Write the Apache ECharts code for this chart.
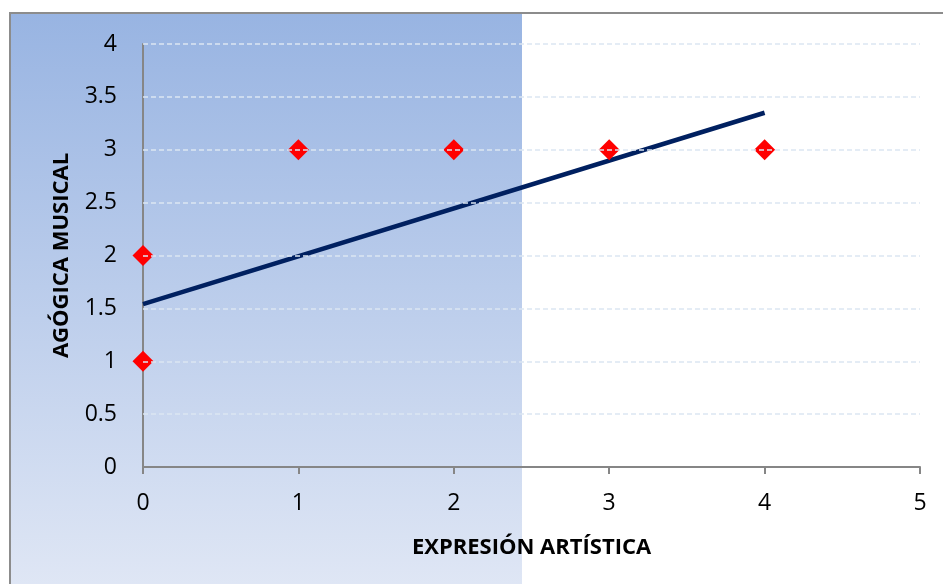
<!DOCTYPE html>
<html><head><meta charset="utf-8">
<script src="https://cdn.jsdelivr.net/npm/echarts@6/dist/echarts.min.js"></script>
<style>html,body{margin:0;padding:0;background:#fff}#c{width:943px;height:584px}</style>
</head><body><div id="c"></div>
<script>
var xValues = [0, 0, 1, 2, 3, 4];
var yValues = [1, 2, 3, 3, 3, 3];
var trendX = [0, 4];
var trendY = [1.54, 3.35];
var yTicks = [0.5, 1, 1.5, 2, 2.5, 3, 3.5, 4];
var xTitle = 'EXPRESIÓN ARTÍSTICA';
var yTitle = 'AGÓGICA MUSICAL';

var pts = xValues.map(function(x, i){ return [x, yValues[i]]; });
var trend = trendX.map(function(x, i){ return [x, trendY[i]]; });
var font = 'Open Sans';
var chart = echarts.init(document.getElementById('c'));
chart.setOption({
  animation: false,
  graphic: [
    {type:'rect', z:-10, shape:{x:10, y:13, width:512, height:580},
     style:{fill:new echarts.graphic.LinearGradient(0,0,0,1,[{offset:0,color:'#98b4e2'},{offset:1,color:'#e0e7f5'}])}},
    {type:'rect', z:-9, shape:{x:10, y:13, width:950, height:600},
     style:{fill:'none', stroke:'#8c8c8c', lineWidth:2}}
  ],
  grid: {left:143, right:23, top:44, bottom:117},
  xAxis: {
    type:'value', min:0, max:5, interval:1,
    name: xTitle, nameLocation:'middle', nameGap:70,
    nameTextStyle:{fontFamily:font, fontWeight:'bold', fontSize:22, color:'#000'},
    axisLine:{lineStyle:{color:'#868686', width:2}},
    axisTick:{show:true, length:7, lineStyle:{color:'#868686', width:2}},
    axisLabel:{fontFamily:font, fontSize:23, color:'#000', margin:25},
    splitLine:{show:false}
  },
  yAxis: {
    type:'value', min:0, max:4, interval:0.5,
    name: yTitle, nameLocation:'middle', nameGap:70, nameRotate:90,
    nameTextStyle:{fontFamily:font, fontWeight:'bold', fontSize:22, color:'#000'},
    axisLine:{show:true, lineStyle:{color:'#868686', width:2}},
    axisTick:{show:false},
    axisLabel:{fontFamily:font, fontSize:23, color:'#000', margin:26},
    splitLine:{show:false}
  },
  series: [
    {type:'line', data:trend, symbol:'none', z:2,
     lineStyle:{color:'#002060', width:4.5}},
    {type:'scatter', data:pts, symbol:'diamond', symbolSize:[21,21], z:3,
     itemStyle:{color:'#ff0000', opacity:1}},
    {type:'line', data:[], z:5,
     markLine:{silent:true, symbol:'none', label:{show:false},
       lineStyle:{color:'#dce6f2', type:[5,3], width:1.5},
       data: yTicks.map(function(v){ return {yAxis:v}; })}}
  ]
});
</script></body></html>
